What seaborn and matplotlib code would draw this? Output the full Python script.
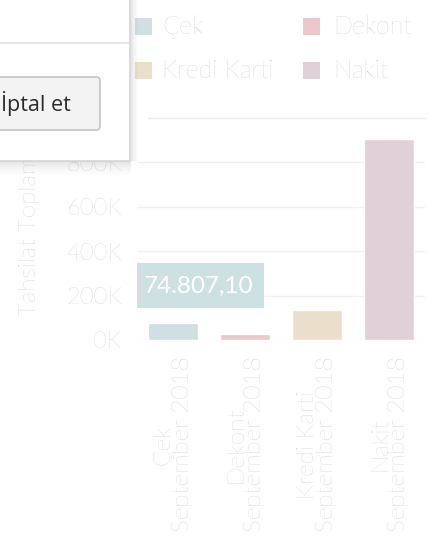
import matplotlib
matplotlib.use("Agg")
import matplotlib.pyplot as plt
from matplotlib.patches import Rectangle, FancyBboxPatch
import seaborn as sns
import pandas as pd

# ---- data ----
categories = ["Çek", "Dekont", "Kredi Karti", "Nakit"]
values = [74807.10, 27000, 135000, 905000]
period = "September 2018"
y_ticks = [0, 200000, 400000, 600000, 800000]
y_tick_labels = ["0K", "200K", "400K", "600K", "800K"]
y_title = "Tahsilat Toplamı"
button_text = "İptal et"

colors = ["#cfdfe2", "#ecc8ca", "#eadfca", "#e0d0d7"]

sns.set_theme(style="white")
plt.rcParams["font.family"] = ["Open Sans", "DejaVu Sans"]
LIGHT = ["Lato", "Open Sans", "DejaVu Sans"]
TXT = "#c4c4c4"

W, H = 430, 541
fig = plt.figure(figsize=(W / 100, H / 100), dpi=100)
fig.patch.set_facecolor("white")


def px(x, y):
    return (x / W, 1 - y / H)


def box(x0, y0, x1, y1):
    return [x0 / W, 1 - y1 / H, (x1 - x0) / W, (y1 - y0) / H]


ax = fig.add_axes(box(137, 120, 425, 340))
df = pd.DataFrame({"cat": categories, "val": values})
sns.barplot(data=df, x="cat", y="val", hue="cat", palette=colors,
            order=categories, hue_order=categories, width=0.69,
            legend=False, ax=ax, saturation=1)
ax.set_xlim(-0.5, len(categories) - 0.5)
ax.set_ylim(0, 990000)
ax.set_yticks(y_ticks)
ax.set_yticklabels(y_tick_labels)
ax.set_xticks(range(len(categories)))
ax.set_xticklabels([f"{c}\n{period}" for c in categories], rotation=90,
                   ha="center", va="top", multialignment="center",
                   linespacing=0.9)
ax.tick_params(axis="y", length=0, pad=11, labelsize=17, labelcolor=TXT)
ax.tick_params(axis="x", length=0, pad=12, labelsize=17.5, labelcolor=TXT)
for lbl in ax.get_yticklabels() + ax.get_xticklabels():
    lbl.set_family(LIGHT)
    lbl.set_fontweight("light")
ax.set_xlabel("")
ax.set_ylabel("")
ax.yaxis.grid(True, color="#f1f1f1", linewidth=1)
ax.set_axisbelow(True)
for s in ax.spines.values():
    s.set_visible(False)

# y axis title
fig.text(*px(30, 316), y_title, rotation=90, ha="center", va="bottom",
         fontsize=17.5, color=TXT, family=LIGHT, fontweight="light")

# tooltip with value of first bar
fig.add_artist(Rectangle(px(137, 308), 127 / W, 45 / H, transform=fig.transFigure,
                         facecolor="#cde0e2", edgecolor="none", zorder=5))
v = values[0]
vt = f"{v:,.2f}".replace(",", "X").replace(".", ",").replace("X", ".")
fig.text(*px(199, 286), vt, ha="center", va="center", fontsize=17.5,
         color="white", zorder=6, family=LIGHT)

# legend
legend_pos = [(135, 18, 162), (303, 18, 333), (135, 62, 162), (303, 62, 333)]
for (sx, sy, tx), c, name in zip(legend_pos, colors, categories):
    fig.add_artist(Rectangle(px(sx, sy + 17), 17 / W, 17 / H, transform=fig.transFigure,
                             facecolor=c, edgecolor="none", zorder=3))
    fig.text(*px(tx, sy + 9), name, ha="left", va="center", fontsize=18,
             color=TXT, family=LIGHT, fontweight="light")

# chart separator line
fig.add_artist(plt.Line2D([148 / W, 425 / W], [1 - 118 / H] * 2, transform=fig.transFigure,
                          color="#ececec", linewidth=1, zorder=2))

# dialog overlay
for i, a in enumerate([0.10, 0.08, 0.06, 0.045, 0.03, 0.02, 0.01]):
    fig.add_artist(Rectangle(px(0, 161 + 2 * (i + 1)), 131 / W, 2 / H,
                             transform=fig.transFigure, facecolor="black",
                             alpha=a, edgecolor="none", zorder=9))
    fig.add_artist(Rectangle(px(131 + i, 161), 1 / W, 161 / H,
                             transform=fig.transFigure, facecolor="black",
                             alpha=a, edgecolor="none", zorder=9))
fig.add_artist(Rectangle(px(-2, 161), 132 / W, 163 / H, transform=fig.transFigure,
                         facecolor="white", edgecolor="#d4d4d4", linewidth=1.2,
                         zorder=10))
fig.add_artist(plt.Line2D([0, 129 / W], [1 - 43 / H] * 2, transform=fig.transFigure,
                          color="#e3e3e3", linewidth=1.2, zorder=11))
fig.add_artist(FancyBboxPatch(px(-10, 130), 110 / W, 53 / H,
                              boxstyle="round,pad=0,rounding_size=0.008",
                              transform=fig.transFigure, facecolor="#f3f3f3",
                              edgecolor="#c4c4c4", linewidth=1.2, zorder=11))
fig.text(*px(1, 104), button_text, ha="left", va="center", fontsize=15.5,
         color="#2b2b2b", zorder=12)

fig.savefig("out.png", dpi=100, facecolor="white")
